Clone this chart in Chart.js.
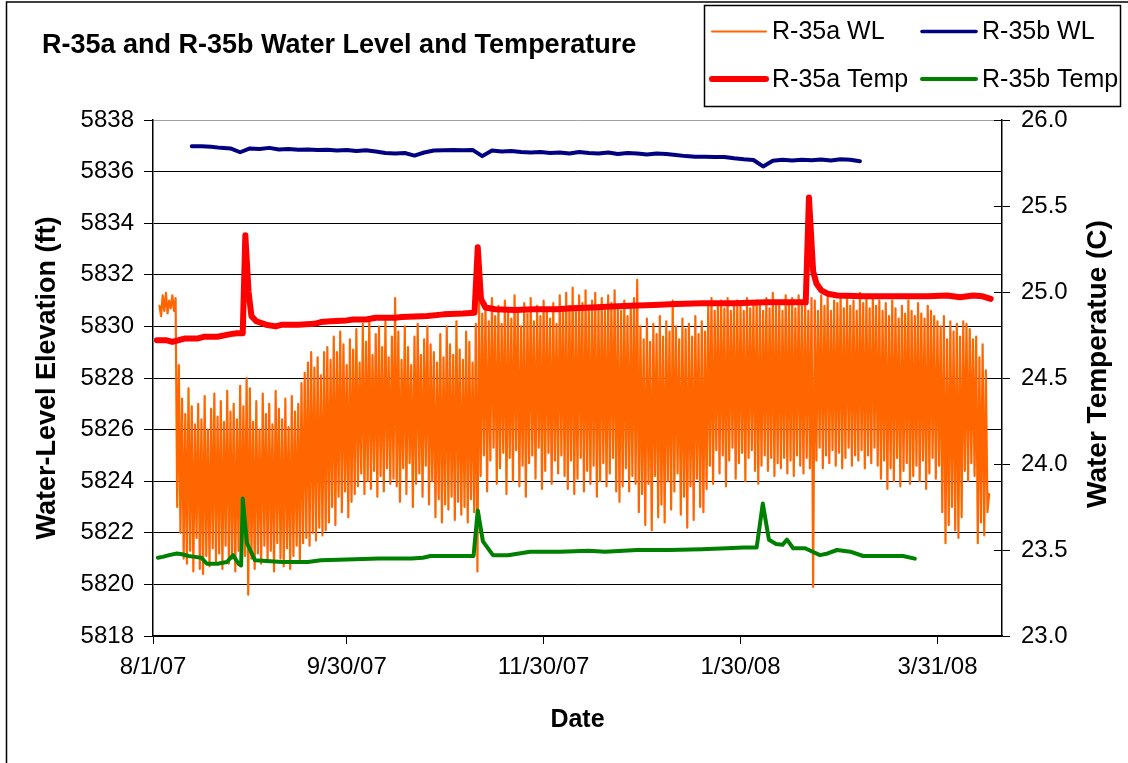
<!DOCTYPE html>
<html>
<head>
<meta charset="utf-8">
<script src="https://cdn.jsdelivr.net/npm/chart.js@4.4.1/dist/chart.umd.min.js"></script>
<style>
html,body{margin:0;padding:0;background:#fff;}
#wrap{position:relative;width:1128px;height:763px;}
canvas{display:block;}
</style>
</head>
<body>
<div id="wrap"><canvas id="c" width="1128" height="763"></canvas></div>
<script>
// ---------- DATA ----------
const chartTitle = 'R-35a and R-35b Water Level and Temperature';
const leftAxisTitle = 'Water-Level Elevation (ft)';
const rightAxisTitle = 'Water Temperatue (C)';
const xAxisTitle = 'Date';
const seriesNames = ['R-35a WL', 'R-35b WL', 'R-35a Temp', 'R-35b Temp'];

// x axis: days since 8/1/07
const xTickDays = [0, 60, 121, 182, 243];
const xTickLabels = ['8/1/07', '9/30/07', '11/30/07', '1/30/08', '3/31/08'];

// R-35a water level (ft), one reading every wlA_stepDays from wlA_startDay
const wlA_startDay = 2;
const wlA_stepDays = 0.5;
const wlA = [
  5830.8, 5830.4, 5831.2, 5830.6, 5831.3, 5830.5, 5831.0, 5830.7, 5831.2, 5830.6, 5831.1,
  5823.0,
  5828.5, 5822.0, 5827.2, 5821.0, 5826.6, 5820.8, 5827.6, 5821.3, 5826.9, 5820.5,
  5826.2, 5821.8, 5827.0, 5820.6, 5826.4, 5820.4, 5827.3, 5821.1, 5826.0, 5820.7,
  5826.8, 5821.4, 5827.4, 5820.9, 5826.5, 5821.2, 5827.1, 5820.6, 5826.3, 5821.5,
  5827.5, 5820.8, 5826.7, 5821.0, 5827.0, 5820.5, 5826.4, 5821.3, 5827.7, 5820.9,
  5826.9, 5821.1,
  5828.0, 5819.6,
  5827.6, 5821.0, 5826.3, 5820.6, 5827.1, 5821.2, 5826.0, 5820.8, 5827.4, 5821.5,
  5826.6, 5820.9, 5827.0, 5821.3, 5826.2, 5820.5, 5827.5, 5821.6, 5826.8, 5821.0,
  5826.4, 5820.7, 5827.2, 5821.4, 5826.1, 5820.6, 5827.3, 5821.1, 5826.7, 5821.5,
  5827.0, 5820.9,
  5827.8, 5821.6, 5828.2, 5821.8, 5828.6, 5821.5, 5829.0, 5822.0, 5828.4, 5821.7, 5828.8, 5822.2, 5828.1, 5821.9, 5829.0, 5822.1,
  5829.2, 5822.4, 5828.7, 5823.0, 5829.6, 5822.3, 5829.0, 5823.4, 5829.8, 5822.8, 5829.3, 5823.6, 5828.5, 5822.6, 5829.5, 5823.2, 5829.1, 5823.5,
  5829.9, 5823.8, 5828.6, 5824.3, 5830.1, 5823.5, 5829.4, 5824.0, 5830.3, 5823.7, 5828.9, 5824.4, 5829.7, 5823.4, 5830.0, 5824.2, 5829.2, 5823.6, 5830.2, 5824.5, 5828.8, 5823.9, 5829.6, 5824.1,
  5831.1,
  5823.8, 5829.8, 5823.2, 5828.7, 5824.5, 5830.0, 5823.5, 5829.2, 5824.7, 5828.5, 5823.0, 5829.6, 5823.9, 5830.1, 5824.3, 5828.9, 5823.4, 5829.5, 5824.6, 5830.0, 5823.1, 5829.3, 5824.0,
  5829.0, 5822.6, 5828.6, 5823.3, 5829.7, 5822.4, 5828.8, 5823.1, 5830.0, 5822.9, 5829.3, 5823.4, 5828.9, 5822.5, 5830.2, 5823.2, 5829.1, 5822.7, 5828.7, 5823.0, 5829.8, 5822.4, 5829.4, 5823.3, 5828.6, 5822.8, 5830.1,
  5820.5,
  5831.0, 5824.2, 5830.5, 5825.0, 5830.9, 5823.6, 5830.2, 5824.8, 5831.1, 5825.3,
  5830.4, 5823.9, 5830.8, 5824.5, 5830.1, 5825.1, 5831.0, 5823.5, 5830.6, 5824.9,
  5830.3, 5824.0, 5831.2, 5825.2, 5830.7, 5823.8, 5830.0, 5824.6, 5830.9, 5823.4,
  5830.5, 5824.7, 5831.1, 5825.0, 5830.2, 5824.1, 5830.8, 5825.3, 5830.4, 5823.7,
  5831.0, 5824.4, 5830.6, 5825.1, 5830.3, 5823.9, 5830.9, 5824.8, 5830.1, 5824.3,
  5831.2, 5825.0, 5830.7, 5824.2,
  5831.3, 5823.7, 5830.8, 5824.8, 5831.5, 5823.5, 5830.6, 5824.1, 5831.2, 5824.9,
  5830.9, 5823.6, 5831.4, 5824.4, 5830.7, 5823.9, 5831.0, 5824.6, 5831.3, 5823.4,
  5830.8, 5824.0, 5831.1, 5824.7, 5830.6, 5823.8, 5831.2, 5824.3, 5830.9, 5824.9,
  5831.4, 5823.6, 5830.7,
  5823.2,
  5830.6, 5823.8, 5831.0, 5824.5, 5830.4, 5823.6, 5830.8, 5824.2, 5831.1, 5823.9,
  5831.8,
  5822.8, 5830.0, 5823.5, 5829.5, 5822.3, 5830.3, 5823.9, 5829.4, 5822.1, 5830.1,
  5824.2, 5829.7, 5822.6, 5830.4, 5823.1, 5829.6, 5822.4, 5830.2, 5824.0, 5829.8,
  5822.9, 5831.0, 5823.6, 5830.0, 5824.3, 5829.5, 5822.7, 5830.3, 5823.4, 5829.9,
  5822.2, 5830.1, 5823.8, 5829.6, 5822.5, 5830.4, 5824.1, 5829.7, 5823.0, 5830.2,
  5822.8, 5829.8, 5823.7,
  5830.8, 5824.6, 5831.1, 5823.9, 5830.6, 5825.2, 5830.9, 5824.3, 5831.0, 5825.0,
  5830.7, 5823.8, 5831.1, 5824.8, 5830.6, 5825.3, 5830.9, 5824.1, 5831.0, 5824.7,
  5830.8, 5825.1, 5830.6, 5824.0, 5831.1, 5824.9, 5830.7, 5825.2, 5830.9, 5824.4,
  5831.0, 5823.9, 5830.8, 5824.6, 5830.6, 5825.0,
  5831.1, 5824.4, 5830.7, 5824.9, 5831.3, 5824.2, 5830.8, 5824.7, 5831.0, 5824.5,
  5830.6, 5824.9, 5831.2, 5824.3, 5830.9, 5824.8, 5831.1, 5824.2, 5830.7, 5825.0,
  5831.2, 5824.6, 5830.8, 5824.3, 5831.0, 5824.9, 5830.6, 5824.5, 5831.1,
  5819.9,
  5831.0, 5824.8, 5830.6, 5825.3, 5831.2, 5824.5, 5830.8, 5825.0, 5831.3, 5824.7,
  5830.6, 5825.2, 5831.0, 5824.6, 5830.9, 5825.1, 5831.2, 5824.5, 5830.7, 5824.9,
  5831.1, 5825.3, 5830.8, 5824.6, 5831.0, 5825.0, 5830.6, 5824.8, 5831.3, 5825.2,
  5830.9, 5824.5, 5831.1, 5825.0, 5830.7, 5824.7, 5831.2, 5825.3, 5830.8, 5824.6,
  5831.0, 5824.1, 5830.6, 5824.8, 5830.9, 5823.7, 5830.4, 5824.5, 5831.0, 5824.0,
  5830.7, 5824.9, 5830.3, 5823.8, 5830.8, 5824.4, 5830.5, 5824.7, 5831.0, 5823.9,
  5830.6, 5824.2, 5830.4, 5824.6, 5830.9, 5824.0, 5830.5, 5824.8, 5830.3, 5823.7,
  5830.8, 5824.3, 5830.6, 5824.9, 5830.4, 5824.1, 5830.2, 5824.6,
  5830.0, 5822.8, 5830.4, 5821.6, 5829.5, 5822.3, 5830.2, 5823.0, 5829.8, 5822.1, 5830.1, 5821.8, 5829.6, 5822.6,
  5830.2, 5824.4, 5830.1, 5824.0, 5829.9, 5824.7, 5829.5, 5824.2,
  5829.6, 5821.6, 5828.8, 5822.4, 5829.3, 5821.9, 5828.3, 5822.8, 5823.5
];

// R-35b water level (ft), one reading every wlB_stepDays from wlB_startDay
const wlB_startDay = 12;
const wlB_stepDays = 3;
const wlB = [
  5836.98, 5836.98, 5836.96, 5836.92, 5836.90, 5836.75, 5836.90, 5836.88, 5836.92, 5836.86,
  5836.88, 5836.85, 5836.86, 5836.84, 5836.85, 5836.82, 5836.84, 5836.80, 5836.83, 5836.78,
  5836.72, 5836.70, 5836.72, 5836.62, 5836.74, 5836.82, 5836.83, 5836.84, 5836.83, 5836.84,
  5836.60, 5836.82, 5836.78, 5836.80, 5836.76, 5836.74, 5836.76, 5836.72, 5836.74, 5836.70,
  5836.76, 5836.72, 5836.70, 5836.74, 5836.68, 5836.72, 5836.70, 5836.66, 5836.70, 5836.68,
  5836.64, 5836.60, 5836.58, 5836.58, 5836.57, 5836.57, 5836.52, 5836.48, 5836.45, 5836.20,
  5836.42, 5836.46, 5836.43, 5836.46, 5836.44, 5836.47, 5836.43, 5836.48, 5836.46, 5836.40
];

// R-35a temperature (C)
const tempA_days = [1.2, 4, 6, 8, 10, 14, 16, 20, 24, 26, 27.8, 28.6, 29.6, 30.5, 32, 35, 38, 40, 45, 50, 52, 55, 60, 62, 66, 69, 75, 77, 85, 90, 96, 99.6, 100.6, 101.6, 103, 106, 112, 118, 125, 130, 136, 142, 148, 155, 162, 170, 180, 190, 200, 202.2, 203.2, 204.5, 205.5, 207, 209, 212, 220, 230, 240, 246, 250, 254, 257, 259.5];
const tempA = [24.72, 24.72, 24.71, 24.72, 24.73, 24.73, 24.74, 24.74, 24.755, 24.76, 24.76, 25.33, 25.0, 24.86, 24.83, 24.81, 24.80, 24.81, 24.81, 24.815, 24.825, 24.83, 24.835, 24.84, 24.84, 24.85, 24.85, 24.855, 24.86, 24.87, 24.875, 24.88, 25.26, 24.96, 24.91, 24.90, 24.895, 24.90, 24.90, 24.905, 24.91, 24.915, 24.92, 24.925, 24.93, 24.935, 24.935, 24.94, 24.94, 24.94, 25.55, 25.12, 25.05, 25.01, 24.99, 24.98, 24.975, 24.975, 24.975, 24.98, 24.97, 24.98, 24.975, 24.96];

// R-35b temperature (C)
const tempB_days = [1.5, 3, 5, 7.4, 9, 11, 13, 15, 16.7, 20, 22.9, 24.8, 26.5, 27.3, 27.8, 29.1, 31.6, 40, 48, 52, 60, 70, 80, 83.6, 86, 95, 99.3, 100.6, 102.2, 105.3, 110, 116.8, 126, 135, 140, 150, 160, 170, 177.8, 183, 187, 188.9, 190.8, 193, 195, 196.4, 198.3, 202, 206.6, 209, 211.9, 216, 220, 232.3, 236];
const tempB = [23.455, 23.46, 23.47, 23.48, 23.475, 23.465, 23.46, 23.455, 23.42, 23.42, 23.43, 23.47, 23.42, 23.41, 23.80, 23.54, 23.44, 23.43, 23.43, 23.44, 23.445, 23.45, 23.45, 23.455, 23.465, 23.465, 23.465, 23.73, 23.55, 23.47, 23.47, 23.49, 23.49, 23.495, 23.49, 23.50, 23.50, 23.505, 23.51, 23.515, 23.515, 23.77, 23.56, 23.535, 23.53, 23.56, 23.51, 23.51, 23.47, 23.48, 23.50, 23.49, 23.465, 23.465, 23.45];

// ---------- BUILD ----------
const FONT = '"Liberation Sans", Arial, sans-serif';
const pts = (days, vals) => vals.map((v, i) => ({x: days[i], y: v}));
const sampled = (start, step, vals) => vals.map((v, i) => ({x: start + step * i, y: v}));

const datasets = [
  {label: seriesNames[2], data: pts(tempA_days, tempA), borderColor: '#FF0000', borderWidth: 6, yAxisID: 'y1', order: 1},
  {label: seriesNames[3], data: pts(tempB_days, tempB), borderColor: '#008000', borderWidth: 4, yAxisID: 'y1', order: 2},
  {label: seriesNames[1], data: sampled(wlB_startDay, wlB_stepDays, wlB), borderColor: '#000080', borderWidth: 4, yAxisID: 'y', order: 3},
  {label: seriesNames[0], data: sampled(wlA_startDay, wlA_stepDays, wlA), borderColor: '#FF6600', borderWidth: 2.2, yAxisID: 'y', order: 4}
];
datasets.forEach(d => { d.pointRadius = 0; d.tension = 0; d.fill = false; d.borderJoinStyle = 'round'; d.borderCapStyle = 'round'; d.backgroundColor = d.borderColor; });
const legendLineWidths = [2, 3.5, 6, 4]; // in legend order

const decor = {
  id: 'decor',
  beforeDraw(chart) {
    const ctx = chart.ctx;
    ctx.save();
    ctx.fillStyle = '#fff';
    ctx.fillRect(0, 0, chart.width, chart.height);
    ctx.restore();
  },
  afterDraw(chart) {
    const ctx = chart.ctx, ca = chart.chartArea;
    ctx.save();
    // inner half of right-axis cross ticks
    const y1 = chart.scales.y1;
    ctx.strokeStyle = '#000'; ctx.lineWidth = 1;
    y1.ticks.forEach(t => {
      const py = Math.round(y1.getPixelForValue(t.value)) + 0.5;
      ctx.beginPath(); ctx.moveTo(ca.right - 8, py); ctx.lineTo(ca.right, py); ctx.stroke();
    });
    // right axis title (reads bottom to top)
    ctx.save();
    ctx.translate(1098, 364);
    ctx.rotate(-Math.PI / 2);
    ctx.font = 'bold 28px ' + FONT;
    ctx.fillStyle = '#000'; ctx.textAlign = 'center'; ctx.textBaseline = 'middle';
    ctx.fillText(rightAxisTitle, 0, 0);
    ctx.restore();
    // outer frame
    ctx.strokeStyle = '#000'; ctx.lineWidth = 1.5;
    ctx.beginPath(); ctx.moveTo(6.5, 763); ctx.lineTo(6.5, 2); ctx.lineTo(1128, 2); ctx.stroke();
    // legend box
    ctx.fillStyle = '#fff';
    ctx.fillRect(704.5, 5.5, 416, 101);
    ctx.strokeStyle = '#000'; ctx.lineWidth = 1.5;
    ctx.strokeRect(704.5, 5.5, 416, 101);
    const order = [3, 2, 0, 1]; // datasets in legend order
    const slots = [[712, 31.5], [922, 31.5], [712, 79], [922, 79]];
    ctx.font = '25px ' + FONT; ctx.textBaseline = 'middle'; ctx.textAlign = 'left';
    order.forEach((di, k) => {
      const d = chart.data.datasets[di];
      const [lx, ly] = slots[k];
      ctx.strokeStyle = d.borderColor; ctx.lineWidth = legendLineWidths[k]; ctx.lineCap = 'round';
      ctx.beginPath(); ctx.moveTo(lx, ly); ctx.lineTo(lx + 54, ly); ctx.stroke();
      ctx.fillStyle = '#000';
      ctx.fillText(d.label, lx + 60, ly + 1);
    });
    ctx.restore();
  }
};

new Chart(document.getElementById('c'), {
  type: 'line',
  data: {datasets},
  plugins: [decor],
  options: {
    responsive: false,
    animation: false,
    devicePixelRatio: 1,
    layout: {padding: {left: 42, right: 0, top: 0, bottom: 0}},
    plugins: {
      legend: {display: false},
      tooltip: {enabled: false},
      title: {
        display: true, text: chartTitle, align: 'start', color: '#000',
        font: {family: FONT, size: 27, weight: 'bold', lineHeight: 1.2},
        padding: {top: 29, bottom: 58.6}
      }
    },
    scales: {
      x: {
        type: 'linear', position: 'bottom', min: 0, max: 263,
        afterBuildTicks: s => { s.ticks = xTickDays.map(v => ({value: v})); },
        afterFit: s => { s.height = 127; },
        ticks: {
          autoSkip: false, maxRotation: 0, color: '#000', padding: 9,
          font: {family: FONT, size: 24},
          callback: v => { const i = xTickDays.indexOf(v); return i >= 0 ? xTickLabels[i] : ''; }
        },
        grid: {drawOnChartArea: false, drawTicks: true, tickLength: 8, color: '#000', lineWidth: 1},
        border: {display: true, color: '#000', width: 1.5},
        title: {display: true, text: xAxisTitle, color: '#000', font: {family: FONT, size: 25, weight: 'bold', lineHeight: 1.2}, padding: {top: 0, bottom: 28}}
      },
      y: {
        type: 'linear', position: 'left', min: 5818, max: 5838,
        afterFit: s => { s.width = 111; },
        ticks: {stepSize: 2, color: '#000', padding: 10, font: {family: FONT, size: 24}, callback: v => String(v)},
        grid: {
          drawOnChartArea: true, tickLength: 9, lineWidth: 1, tickColor: '#000',
          color: c => (c.tick && c.tick.value === 5838) ? '#a0a0a0' : '#000'
        },
        border: {display: true, color: '#000', width: 1.5},
        title: {display: true, text: leftAxisTitle, color: '#000', font: {family: FONT, size: 27, weight: 'bold', lineHeight: 1.2}, padding: {top: -11, bottom: 0}}
      },
      y1: {
        type: 'linear', position: 'right', min: 23, max: 26,
        afterFit: s => { s.width = 126; },
        ticks: {stepSize: 0.5, color: '#000', padding: 11, font: {family: FONT, size: 24}, callback: v => Number(v).toFixed(1)},
        grid: {drawOnChartArea: false, tickLength: 8, lineWidth: 1, color: '#000'},
        border: {display: true, color: '#000', width: 1.5}
      }
    }
  }
});
</script>
</body>
</html>
